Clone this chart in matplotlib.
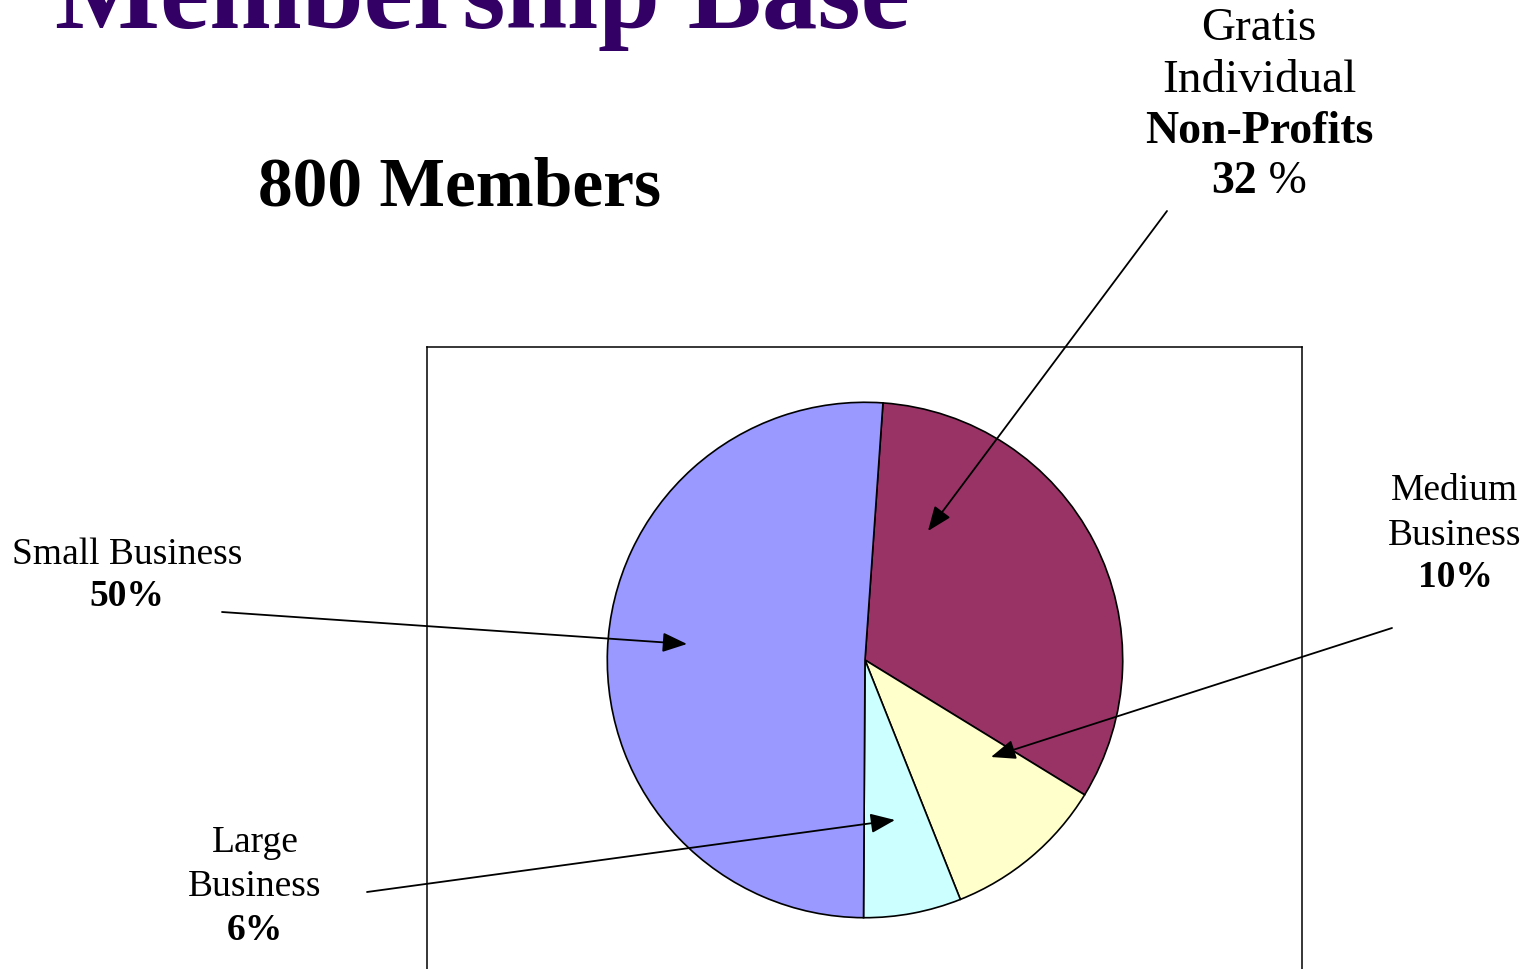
import matplotlib
matplotlib.use("Agg")
import matplotlib.pyplot as plt
from matplotlib.lines import Line2D
from matplotlib.patches import FancyArrowPatch

W, H = 1528, 970
categories = ["Non-Profits", "Medium Business", "Large Business", "Small Business"]
values = [32, 10, 6, 50]
colors = ["#993366", "#FFFFCC", "#CCFFFF", "#9999FF"]

title = "Membership Base"
subtitle = "800 Members"

fig = plt.figure(figsize=(W / 100, H / 100), dpi=100)
fig.patch.set_facecolor("white")
SERIF = "Liberation Serif"

def fx(x):
    return x / W

def fy(y):
    return 1 - y / H

# frame box
for (x0, y0, x1, y1) in [(427, 348, 1302, 348), (427, 348, 427, 975), (1302, 348, 1302, 975)]:
    fig.add_artist(Line2D([fx(x0), fx(x1)], [fy(y0), fy(y1)], color="black", lw=1.1,
                          transform=fig.transFigure))

# pie
cx, cy, r = 865, 661, 259
ax = fig.add_axes([fx(cx - r), fy(cy + r), (2 * r) / W, (2 * r) / H])
ax.pie(values, colors=colors, startangle=86, counterclock=False, radius=1,
       wedgeprops=dict(edgecolor="black", linewidth=1.2))
ax.set_xlim(-1.005, 1.005)
ax.set_ylim(-1.005, 1.005)
ax.set_aspect("equal")
ax.axis("off")

# title
fig.text(fx(55), fy(28), title, fontsize=80, fontweight="bold", color="#330066",
         family=SERIF, ha="left", va="baseline")
fig.text(fx(460), fy(205), subtitle, fontsize=50, fontweight="bold", color="black",
         family=SERIF, ha="center", va="baseline")

def label(x, lines):
    for (y, s, bold, size) in lines:
        fig.text(fx(x), fy(y), s, fontsize=size, fontweight="bold" if bold else "normal",
                 family=SERIF, ha="center", va="baseline", color="black")

label(1259, [(40, "Gratis", False, 34), (92, "Individual", False, 34),
             (143, "Non-Profits", True, 33)])
fig.text(fx(1257), fy(193), "32", fontsize=33, fontweight="bold", family=SERIF,
         ha="right", va="baseline", color="black")
fig.text(fx(1257), fy(193), " %", fontsize=33, fontweight="normal", family=SERIF,
         ha="left", va="baseline", color="black")
label(127, [(564, "Small Business", False, 27), (606, "50%", True, 27)])
label(1455, [(500, "Medium", False, 27), (545, "Business", False, 27), (587, "10%", True, 27)])
label(255, [(852, "Large", False, 27), (896, "Business", False, 27), (940, "6%", True, 27)])

# arrows
arrows = [((1167, 212), (928, 532)), ((222, 613), (687, 645)),
          ((1392, 629), (991, 758)), ((367, 893), (895, 821))]
for (sx, sy), (ex, ey) in arrows:
    fig.add_artist(FancyArrowPatch(
        (fx(sx), fy(sy)), (fx(ex), fy(ey)), transform=fig.transFigure,
        arrowstyle="-|>,head_length=10,head_width=4", mutation_scale=1.5,
        color="black", lw=1.3, shrinkA=0, shrinkB=0))

fig.savefig("out.png", dpi=100, facecolor="white")
